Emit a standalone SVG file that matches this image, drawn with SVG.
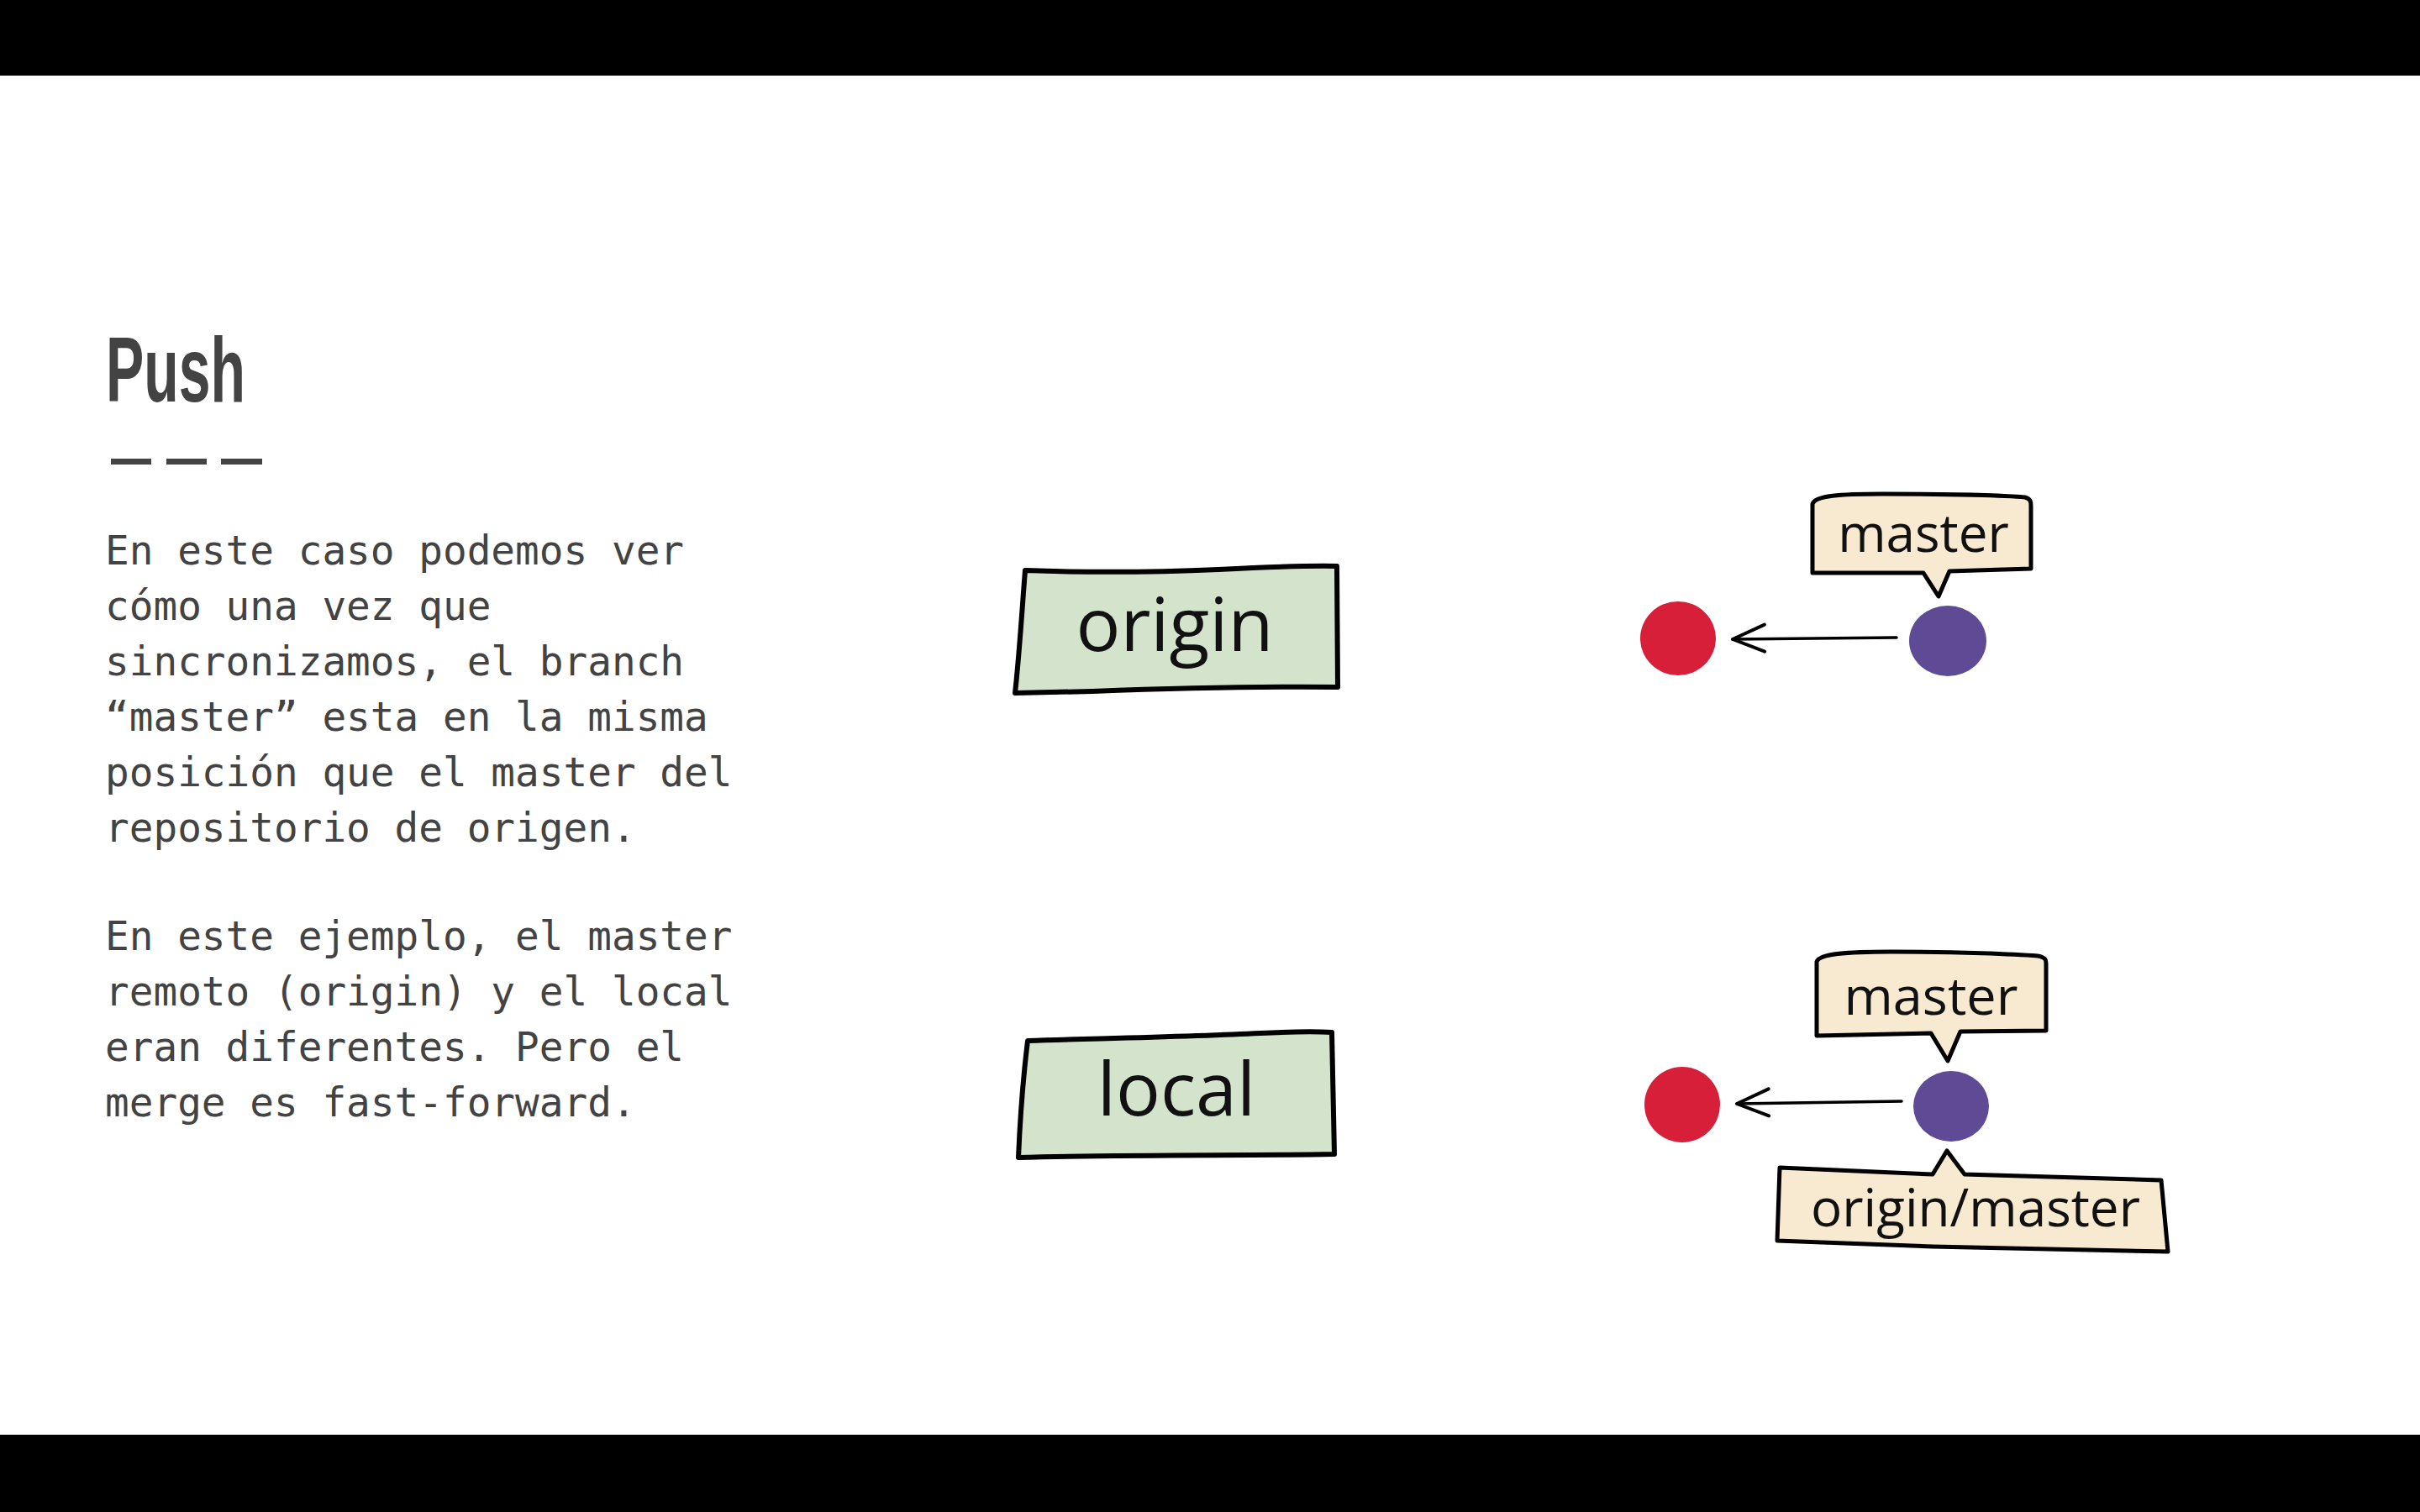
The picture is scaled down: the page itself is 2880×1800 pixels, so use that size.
<svg xmlns="http://www.w3.org/2000/svg" width="2880" height="1800" viewBox="0 0 2880 1800">
  <style>
    .bar { fill: #000000; }
    .title { font-family: "Liberation Sans", Arial, sans-serif; font-weight: bold; font-size: 110px; fill: #434343; }
    .dash { fill: #434343; }
    .body { font-family: "DejaVu Sans Mono", "Liberation Mono", monospace; font-size: 47.7px; fill: #434343; }
    .repo { fill: #d3e3cc; stroke: #000000; stroke-width: 6; stroke-linejoin: round; }
    .tag { fill: #f8ead1; stroke: #000000; stroke-width: 5; stroke-linejoin: round; }
    .hand { font-family: "Open Sans", "Noto Sans", sans-serif; font-weight: 500; fill: #111111; text-anchor: middle; }
    .c-old { fill: #d81f3a; }
    .c-new { fill: #5f4b95; }
    .link { fill: none; stroke: #000000; stroke-width: 3.5; stroke-linecap: round; }
  </style>
  <defs>
    <marker id="chevron" markerUnits="userSpaceOnUse" viewBox="-44 -22 50 44" markerWidth="50" markerHeight="44" refX="0" refY="0" orient="auto">
      <path d="M-38,-15 L0,0 L-38,17" fill="none" stroke="#000000" stroke-width="4" stroke-linecap="round" stroke-linejoin="round"/>
    </marker>
  </defs>

  <rect width="2880" height="1800" fill="#ffffff"/>
  <rect class="bar" x="0" y="0" width="2880" height="90"/>
  <rect class="bar" x="0" y="1708" width="2880" height="92"/>

  <!-- heading -->
  <g id="heading">
    <text class="title" x="126" y="478" textLength="166" lengthAdjust="spacingAndGlyphs">Push</text>
    <rect class="dash" x="132" y="546" width="48" height="7"/>
    <rect class="dash" x="198" y="546" width="48" height="7"/>
    <rect class="dash" x="263" y="546" width="49" height="7"/>
  </g>

  <!-- explanation -->
  <g id="explanation" class="body">
    <text x="125" y="672">En este caso podemos ver</text>
    <text x="125" y="738">cómo una vez que</text>
    <text x="125" y="804">sincronizamos, el branch</text>
    <text x="125" y="870">“master” esta en la misma</text>
    <text x="125" y="936">posición que el master del</text>
    <text x="125" y="1002">repositorio de origen.</text>
    <text x="125" y="1131">En este ejemplo, el master</text>
    <text x="125" y="1197">remoto (origin) y el local</text>
    <text x="125" y="1263">eran diferentes. Pero el</text>
    <text x="125" y="1329">merge es fast-forward.</text>
  </g>

  <!-- repository labels -->
  <g id="repo-origin">
    <path class="repo" d="M1220,679 C1300,682 1380,681 1450,678 C1510,675 1560,673 1591,674 L1592,818 C1500,817 1380,820 1300,823 L1208,825 C1213,780 1216,730 1220,679 Z"/>
    <text class="hand" x="1398" y="775" font-size="88">origin</text>
  </g>
  <g id="repo-local">
    <path class="repo" d="M1223,1239 C1320,1236 1420,1234 1500,1230 C1540,1228 1570,1228 1585,1229 L1588,1374 C1480,1376 1350,1374 1212,1378 C1214,1330 1218,1280 1223,1239 Z"/>
    <text class="hand" x="1400" y="1328" font-size="88">local</text>
  </g>

  <!-- commits of origin -->
  <g id="origin-c1">
    <ellipse class="c-old" cx="1997" cy="760" rx="45" ry="44"/>
  </g>
  <g id="origin-c2">
    <ellipse class="c-new" cx="2318" cy="763" rx="46" ry="42"/>
  </g>
  <g id="origin-master">
    <path class="tag" d="M2157,600 C2160,590 2190,588 2240,588 C2320,588 2390,590 2410,592 C2417,594 2417,598 2417,602 L2417,677 L2320,680 L2307,710 L2289,682 L2157,682 Z"/>
    <text class="hand" x="2289" y="657" font-size="62">master</text>
  </g>

  <!-- commits of local -->
  <g id="local-c1">
    <ellipse class="c-old" cx="2002" cy="1315" rx="45" ry="45"/>
  </g>
  <g id="local-c2">
    <ellipse class="c-new" cx="2322" cy="1317" rx="45" ry="42"/>
  </g>
  <g id="local-master">
    <path class="tag" d="M2162,1145 C2165,1135 2200,1133 2250,1133 C2330,1133 2400,1136 2425,1138 C2435,1140 2435,1143 2435,1147 L2435,1227 L2333,1228 L2318,1263 L2298,1230 L2162,1233 Z"/>
    <text class="hand" x="2298" y="1208" font-size="63">master</text>
  </g>
  <g id="local-origin-master">
    <path class="tag" d="M2118,1390 L2300,1398 L2317,1370 L2338,1398 L2572,1405 L2580,1490 L2300,1484 L2115,1477 Z"/>
    <text class="hand" x="2351" y="1460" font-size="62">origin/master</text>
  </g>

  <!-- parent links -->
  <g id="connectors">
    <path class="link" d="M2257,759 L2062,761" marker-end="url(#chevron)"/>
    <path class="link" d="M2263,1311 L2067,1314" marker-end="url(#chevron)"/>
  </g>
</svg>
